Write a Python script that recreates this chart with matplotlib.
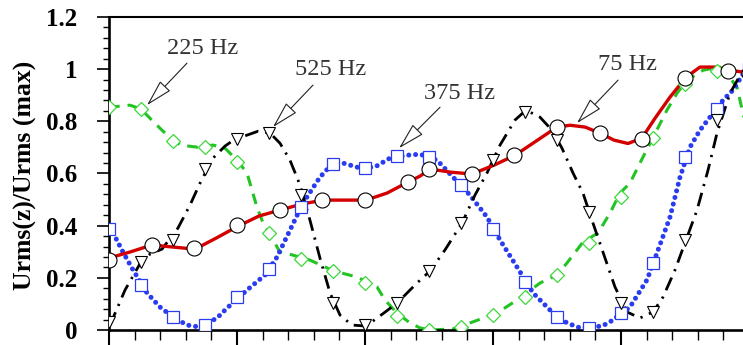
import matplotlib
matplotlib.use("Agg")
import matplotlib.pyplot as plt
from matplotlib.ticker import MultipleLocator, FixedLocator, FixedFormatter

# ---------------- data ----------------
# marker positions
x_circ = [0, 0.333, 0.667, 1.0, 1.333, 1.667, 2.0, 2.333, 2.5, 2.833, 3.167, 3.5, 3.833, 4.167, 4.5, 4.833, 5.0]
y_circ = [0.268, 0.326, 0.313, 0.402, 0.460, 0.498, 0.498, 0.568, 0.616, 0.598, 0.670, 0.779, 0.756, 0.734, 0.968, 0.993, 0.985]

x_q = [0, 0.25, 0.5, 0.75, 1.0, 1.25, 1.5, 1.75, 2.0, 2.25, 2.5, 2.75, 3.0, 3.25, 3.5, 3.75, 4.0, 4.25, 4.5, 4.75, 5.0]
y_tri = [0.032, 0.262, 0.345, 0.616, 0.731, 0.754, 0.517, 0.102, 0.019, 0.102, 0.227, 0.409, 0.651, 0.836, 0.728, 0.453, 0.102, 0.070, 0.345, 0.805, 1.0]
y_sq = [0.386, 0.172, 0.049, 0.019, 0.125, 0.233, 0.472, 0.636, 0.620, 0.667, 0.664, 0.556, 0.386, 0.185, 0.051, 0.007, 0.064, 0.258, 0.662, 0.846, 1.0]
y_dia = [0.856, 0.846, 0.724, 0.702, 0.645, 0.370, 0.271, 0.227, 0.181, 0.054, 0.0, 0.013, 0.057, 0.125, 0.211, 0.332, 0.511, 0.738, 0.945, 0.993, 0.82]

# curves (75 Hz, red)
x_75 = [0.0, 0.164, 0.336, 0.5, 0.672, 0.836, 1.008, 1.172, 1.336, 1.508, 1.672, 1.844, 2.008, 2.172, 2.336, 2.43, 2.508,
        2.672, 2.836, 3.008, 3.172, 3.336, 3.5, 3.602, 3.719, 3.836, 3.945, 4.055, 4.164, 4.266, 4.383, 4.508, 4.617,
        4.734, 4.844, 4.953]
y_75 = [0.276, 0.299, 0.326, 0.318, 0.310, 0.352, 0.398, 0.437, 0.460, 0.483, 0.498, 0.498, 0.498, 0.525, 0.567, 0.590, 0.617,
        0.605, 0.598, 0.632, 0.670, 0.724, 0.778, 0.785, 0.778, 0.755, 0.728, 0.715, 0.736, 0.812, 0.893, 0.969, 1.008,
        1.008, 0.996, 0.989]

# 525 Hz, black dash-dot
x_525 = [0.008, 0.125, 0.25, 0.32, 0.414, 0.539, 0.633, 0.711, 0.813, 0.906, 0.984, 1.078, 1.164, 1.258, 1.336, 1.414,
         1.492, 1.570, 1.648, 1.727, 1.805, 1.898, 2.008, 2.117, 2.25, 2.406, 2.508, 2.625, 2.758, 2.859, 2.953, 3.055,
         3.172, 3.258, 3.367, 3.461, 3.539, 3.625, 3.703, 3.781, 3.875, 3.953, 4.047, 4.148, 4.25, 4.328, 4.422, 4.508,
         4.594, 4.68, 4.75, 4.852, 4.953]
y_525 = [0.019, 0.153, 0.261, 0.291, 0.310, 0.391, 0.479, 0.563, 0.659, 0.705, 0.732, 0.747, 0.762, 0.755, 0.716, 0.651,
         0.556, 0.421, 0.276, 0.142, 0.057, 0.019, 0.015, 0.054, 0.103, 0.180, 0.226, 0.307, 0.410, 0.517, 0.602, 0.709,
         0.805, 0.843, 0.816, 0.766, 0.697, 0.602, 0.525, 0.410, 0.276, 0.165, 0.069, 0.046, 0.069, 0.126, 0.230, 0.345,
         0.460, 0.613, 0.755, 0.908, 0.996]

# 375 Hz, blue dotted
x_375 = [0.008, 0.109, 0.188, 0.297, 0.398, 0.5, 0.609, 0.711, 0.844, 0.922, 1.078, 1.219, 1.313, 1.414, 1.516, 1.648,
         1.75, 1.828, 1.961, 2.078, 2.195, 2.328, 2.43, 2.563, 2.688, 2.82, 2.953, 3.055, 3.188, 3.313, 3.469, 3.578,
         3.68, 3.852, 3.914, 4.07, 4.203, 4.281, 4.383, 4.461, 4.539, 4.617, 4.695, 4.797, 4.875, 4.953]
y_375 = [0.395, 0.299, 0.230, 0.142, 0.088, 0.050, 0.019, 0.011, 0.046, 0.084, 0.153, 0.211, 0.280, 0.383, 0.487, 0.586,
         0.640, 0.640, 0.621, 0.625, 0.659, 0.670, 0.674, 0.651, 0.586, 0.517, 0.433, 0.345, 0.241, 0.142, 0.065, 0.027,
         0.008, 0.015, 0.031, 0.088, 0.192, 0.295, 0.433, 0.586, 0.701, 0.766, 0.816, 0.881, 0.920, 0.981]

# 225 Hz, green dashed
x_225 = [0.0, 0.164, 0.25, 0.32, 0.422, 0.555, 0.688, 0.813, 0.906, 1.0, 1.078, 1.156, 1.195, 1.258, 1.336, 1.438, 1.57,
         1.758, 1.938, 2.094, 2.156, 2.25, 2.352, 2.43, 2.508, 2.688, 2.82, 3.031, 3.188, 3.367, 3.5, 3.578, 3.703, 3.82,
         3.914, 3.992, 4.07, 4.148, 4.227, 4.359, 4.438, 4.516, 4.641, 4.773, 4.836, 4.906, 4.953]
y_225 = [0.854, 0.862, 0.847, 0.812, 0.762, 0.709, 0.701, 0.709, 0.697, 0.651, 0.602, 0.471, 0.421, 0.364, 0.299, 0.287,
         0.268, 0.226, 0.203, 0.165, 0.115, 0.065, 0.027, 0.008, 0.0, 0.004, 0.027, 0.065, 0.115, 0.180, 0.211, 0.257,
         0.337, 0.372, 0.448, 0.525, 0.563, 0.640, 0.716, 0.843, 0.908, 0.958, 0.996, 1.008, 0.977, 0.931, 0.831]

ytick_vals = [0, 0.2, 0.4, 0.6, 0.8, 1.0, 1.2]
ytick_labels = ['0', '0.2', '0.4', '0.6', '0.8', '1', '1.2']

labels = ['225 Hz', '525 Hz', '375 Hz', '75 Hz']
lab_text = [(0.734, 1.080), (1.734, 1.0), (2.742, 0.908), (4.047, 1.019)]
lab_tail = [(0.609, 1.023), (1.594, 0.939), (2.586, 0.854), (3.977, 0.958)]
lab_tip = [(0.297, 0.862), (1.281, 0.778), (2.266, 0.697), (3.656, 0.793)]

# ---------------- figure ----------------
W, H = 743, 345
fig = plt.figure(figsize=(W / 100, H / 100), dpi=100)
ax = fig.add_axes([109 / W, 15 / H, 640 / W, 313 / H])

red = '#d40000'
blue = '#2a3cf0'
green = '#22c322'
lgreen = '#3ad83a'

# curves
ax.plot(x_225, y_225, color=green, lw=2.2, ls=(0, (3.5, 2.6)), zorder=2)
ax.plot(x_375, y_375, color=blue, lw=3.6, ls=(0, (0.01, 1.35)), dash_capstyle='round', zorder=2)
ax.plot(x_525, y_525, color='black', lw=2.0, ls=(0, (5, 2.5, 0.8, 2.5)), zorder=3)
ax.plot(x_75, y_75, color=red, lw=2.4, zorder=3)

# markers
ax.plot(x_q, y_dia, ls='none', marker='D', ms=7.3, mfc='white', mec=lgreen, mew=0.9, zorder=4)
ax.plot(x_q, y_sq, ls='none', marker='s', ms=8.0, mfc='white', mec=blue, mew=0.9, zorder=4)
ax.plot(x_q, y_tri, ls='none', marker='v', ms=8.6, mfc='white', mec='black', mew=0.8, zorder=5)
ax.plot(x_circ, y_circ, ls='none', marker='o', ms=10.8, mfc='white', mec='black', mew=0.8, zorder=5)

# annotations
for lab, tx, tl, tp in zip(labels, lab_text, lab_tail, lab_tip):
    ax.text(tx[0], tx[1], lab, ha='center', va='center', fontsize=17.5,
            family='Liberation Serif', color='#333333', zorder=6)
    ax.annotate('', xy=tp, xytext=tl,
                arrowprops=dict(arrowstyle='-|>,head_length=1.7,head_width=0.45',
                                mutation_scale=10, fc='white', ec='#222222', lw=0.8,
                                shrinkA=0, shrinkB=0), zorder=6)

ax.set_xlim(0, 5)
ax.set_ylim(0, 1.2)

ax.xaxis.set_major_locator(MultipleLocator(1))
ax.xaxis.set_minor_locator(MultipleLocator(0.2))
ax.set_xticklabels([])
ax.yaxis.set_major_locator(FixedLocator(ytick_vals))
ax.yaxis.set_major_formatter(FixedFormatter(ytick_labels))
ax.yaxis.set_minor_locator(MultipleLocator(0.04))

ax.tick_params(axis='y', which='major', direction='out', length=8.6, width=1.2, pad=14)
ax.tick_params(axis='y', which='minor', direction='out', length=4.3, width=1.0)
ax.tick_params(axis='x', which='major', direction='out', length=13, width=1.5)
ax.tick_params(axis='x', which='minor', direction='out', length=7.2, width=1.0)
ax.tick_params(top=False, right=False)

for lab in ax.get_yticklabels():
    lab.set_family('Liberation Serif')
    lab.set_fontweight('bold')
    lab.set_fontsize(18)

ax.spines['left'].set_linewidth(1.9)
ax.spines['bottom'].set_linewidth(1.9)
ax.spines['top'].set_linewidth(1.5)
ax.spines['right'].set_linewidth(1.5)

fig.text(25 / W, 1 - 175 / H, 'Urms(z)/Urms (max)', rotation=90, ha='center', va='center',
         fontsize=18.5, fontweight='bold', family='Liberation Serif')

fig.savefig('out.png', dpi=100)
